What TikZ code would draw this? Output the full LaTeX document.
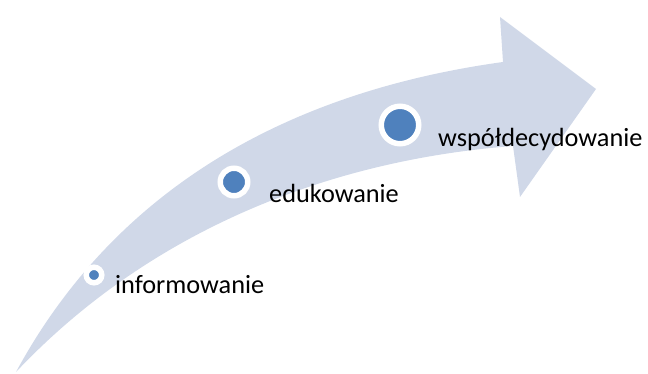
\documentclass[tikz,border=0pt]{standalone}
\usepackage{fontspec}
\setmainfont{Carlito}
\usetikzlibrary{positioning}

\begin{document}
\begin{tikzpicture}[x=1pt, y=-1pt]
  % styles
  \tikzset{
    a/.style={fill=arrowfill, draw=none},
    d/.style={circle, fill=dotblue, draw=white, line width=5.5pt, inner sep=0pt},
    l/.style={anchor=base west, inner sep=0pt, font=\fontsize{26.3}{30}\selectfont}
  }
  \definecolor{arrowfill}{RGB}{208,216,232}
  \definecolor{dotblue}{RGB}{79,129,189}

  \useasboundingbox (0,0) rectangle (648,374);

  % coordinates (tail, shaft ends, arrow head)
  \coordinate (T)  at (16,372);   % tail tip
  \coordinate (U)  at (503,62);   % upper shaft end
  \coordinate (HT) at (500,17);   % head top
  \coordinate (HP) at (596,89);   % head point
  \coordinate (HB) at (520,197);  % head bottom
  \coordinate (L)  at (513,146);  % lower shaft end

  % arrow
  \fill[a] (T) .. controls (120,180) and (300,90) .. (U)
    -- (HT) -- (HP) -- (HB) -- (L)
    .. controls (330,160) and (150,230) .. (T) -- cycle;

  % dots
  \node[d, minimum size=15.5pt] (d1) at (94,275) {};
  \node[d, minimum size=27.5pt] (d2) at (234,182) {};
  \node[d, minimum size=37.5pt] (d3) at (400,125) {};

  % labels
  \node[l] (t1) at (115,294) {informowanie};
  \node[l] (t2) at (269,203) {edukowanie};
  \node[l] (t3) at (438,147) {współdecydowanie};
\end{tikzpicture}
\end{document}
